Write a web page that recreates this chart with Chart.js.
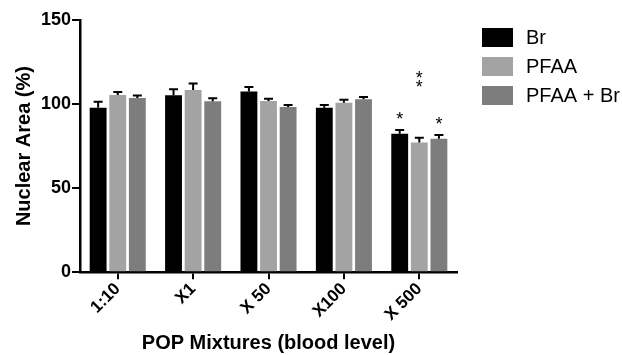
<!DOCTYPE html>
<html>
<head>
<meta charset="utf-8">
<script src="https://cdn.jsdelivr.net/npm/chart.js@4/dist/chart.umd.min.js"></script>
<style>
  html,body{margin:0;padding:0;background:#fff;}
  #wrap{width:622px;height:355px;position:relative;}
</style>
</head>
<body>
<div id="wrap"><canvas id="chart"></canvas></div>
<script>
// dati
const categories = ['1:10', 'X1', 'X 50', 'X100', 'X 500'];
const seriesNames = ['Br', 'PFAA', 'PFAA + Br'];
const brValues   = [97.8, 105.2, 107.4, 97.8, 82.4];
const pfaaValues = [105.4, 108.4, 101.8, 100.8, 77.2];
const mixValues  = [103.6, 101.6, 98.2, 102.8, 79.4];
const brErr   = [3.5, 3.6, 2.8, 1.6, 2.2];
const pfaaErr = [1.8, 3.8, 1.4, 1.8, 2.8];
const mixErr  = [1.5, 1.8, 1.2, 1.4, 2.2];
const brStars   = ['', '', '', '', '*'];
const pfaaStars = ['', '', '', '', '**'];
const mixStars  = ['', '', '', '', '*'];
const yTicks = [0, 50, 100, 150];

const FONT = "'Liberation Sans', Arial, sans-serif";
const COLORS = ['#000000', '#a3a3a3', '#7d7d7d'];

const errorBars = {
  id:'errorBars',
  afterDatasetsDraw(chart){
    const {ctx, scales:{y}} = chart;
    ctx.save();
    ctx.strokeStyle = '#000';
    ctx.lineWidth = 2;
    chart.data.datasets.forEach((ds, i)=>{
      const meta = chart.getDatasetMeta(i);
      meta.data.forEach((bar, j)=>{
        const top = y.getPixelForValue(ds.data[j] + ds.err[j]);
        ctx.beginPath();
        ctx.moveTo(bar.x, bar.y);
        ctx.lineTo(bar.x, top);
        ctx.moveTo(bar.x - 4.5, top);
        ctx.lineTo(bar.x + 4.5, top);
        ctx.stroke();
        const s = ds.stars[j];
        if(s){
          ctx.fillStyle = '#000';
          ctx.font = `18px ${FONT}`;
          ctx.textAlign = 'center';
          ctx.textBaseline = 'middle';
          const lift = s.length > 1 ? 50 : 10;
          for(let k=0;k<s.length;k++){
            ctx.fillText('*', bar.x, top - lift - k*9);
          }
        }
      });
    });
    ctx.restore();
  }
};

const sideLegend = {
  id:'sideLegend',
  afterDraw(chart){
    const {ctx} = chart;
    ctx.save();
    chart.data.datasets.forEach((ds, i)=>{
      const yy = 28 + i*29;
      ctx.fillStyle = ds.backgroundColor;
      ctx.fillRect(482, yy, 31, 19);
      ctx.fillStyle = '#000';
      ctx.font = `20px ${FONT}`;
      ctx.textAlign = 'left';
      ctx.textBaseline = 'middle';
      ctx.fillText(ds.label, 526, yy + 10);
    });
    ctx.restore();
  }
};

const mk = (label, data, err, stars, color)=>({
  label, data, err, stars,
  backgroundColor:color,
  borderWidth:0,
  categoryPercentage:0.78,
  barPercentage:0.86
});

new Chart(document.getElementById('chart'), {
  type:'bar',
  data:{
    labels:categories,
    datasets:[
      mk(seriesNames[0], brValues, brErr, brStars, COLORS[0]),
      mk(seriesNames[1], pfaaValues, pfaaErr, pfaaStars, COLORS[1]),
      mk(seriesNames[2], mixValues, mixErr, mixStars, COLORS[2])
    ]
  },
  options:{
    responsive:true,
    maintainAspectRatio:false,
    animation:false,
    layout:{padding:{left:12, right:165, top:20, bottom:0}},
    plugins:{legend:{display:false}, tooltip:{enabled:false}},
    scales:{
      x:{
        grid:{display:true, drawOnChartArea:false, offset:false, color:'#000', lineWidth:2, tickLength:7},
        border:{display:true, color:'#000', width:2.5},
        ticks:{color:'#000', font:{family:FONT, size:17, weight:'bold'}, maxRotation:45, minRotation:45, padding:0},
        title:{display:true, text:'POP Mixtures (blood level)', color:'#000', font:{family:FONT, size:20, weight:'bold'}, padding:{top:6, bottom:0}}
      },
      y:{
        min:0, max:150,
        afterBuildTicks(axis){ axis.ticks = yTicks.map(v=>({value:v})); },
        grid:{display:true, drawOnChartArea:false, color:'#000', lineWidth:2, tickLength:8},
        border:{display:true, color:'#000', width:2.5},
        ticks:{color:'#000', font:{family:FONT, size:18, weight:'bold'}, padding:1},
        title:{display:true, text:'Nuclear Area (%)', color:'#000', font:{family:FONT, size:20, weight:'bold'}, padding:{top:0, bottom:4}}
      }
    }
  },
  plugins:[errorBars, sideLegend]
});
</script>
</body>
</html>
